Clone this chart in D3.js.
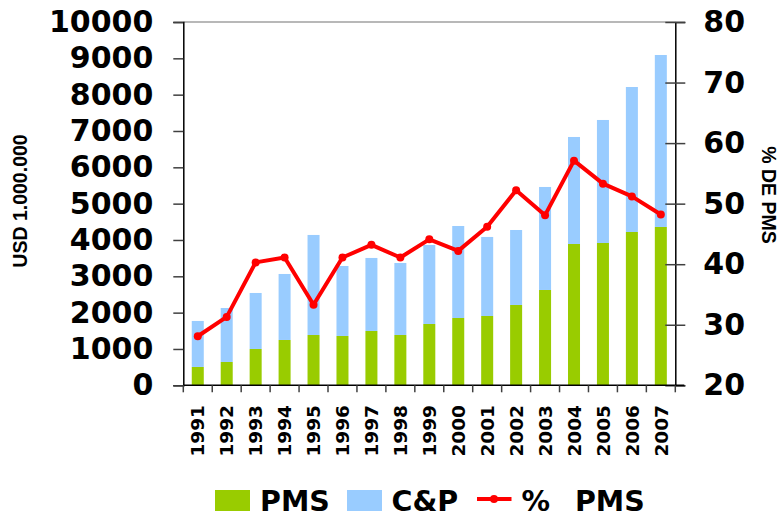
<!DOCTYPE html>
<html>
<head>
<meta charset="utf-8">
<script src="https://cdn.jsdelivr.net/npm/d3@7"></script>
<style>
  body { margin: 0; background: #fff; }
  svg { display: block; }
</style>
</head>
<body>
<div id="chart"></div>
<script>
// Data
var years = ["1991","1992","1993","1994","1995","1996","1997","1998","1999",
             "2000","2001","2002","2003","2004","2005","2006","2007"];
var pms   = [505, 642, 1000, 1248, 1385, 1358, 1495, 1385, 1688,
             1853, 1908, 2211, 2624, 3890, 3917, 4220, 4358];
var total = [1771, 2128, 2541, 3064, 4138, 3284, 3505, 3367, 3862,
             4385, 4083, 4275, 5459, 6835, 7303, 8211, 9092];
var pctPms = [28.1, 31.3, 40.3, 41.1, 33.3, 41.1, 43.2, 41.1, 44.1,
              42.2, 46.2, 52.2, 48.1, 57.1, 53.3, 51.2, 48.2];
var leftTicks  = [0,1000,2000,3000,4000,5000,6000,7000,8000,9000,10000];
var rightTicks = [20,30,40,50,60,70,80];
var seriesNames = ["PMS", "C&P", "% PMS"];

var W = 782, H = 514;
var plot = {left: 183.3, right: 675.3, top: 22, bottom: 385.3};
var colors = {pms: "#99cc00", cp: "#99ccff", line: "#ff0000"};
var tickFont = "'DejaVu Sans', Verdana, sans-serif";

var rows = years.map(function(y, i) {
    return {year: y, pms: pms[i], cp: total[i] - pms[i], pct: pctPms[i]};
});

var svg = d3.select("#chart").append("svg")
    .attr("width", W).attr("height", H);

var x = d3.scaleBand().domain(years)
    .range([plot.left, plot.right])
    .paddingInner(0.585).paddingOuter(0.2925);
var y = d3.scaleLinear().domain([0, 10000]).range([plot.bottom, plot.top]);
var y2 = d3.scaleLinear().domain([20, 80]).range([plot.bottom, plot.top]);

// stacked bars
var stack = d3.stack().keys(["pms", "cp"])(rows);
svg.append("g").selectAll("g")
    .data(stack).enter().append("g")
    .attr("fill", function(d) { return d.key === "pms" ? colors.pms : colors.cp; })
    .selectAll("rect")
    .data(function(d) { return d; }).enter().append("rect")
    .attr("x", function(d) { return x(d.data.year); })
    .attr("width", x.bandwidth())
    .attr("y", function(d) { return y(d[1]); })
    .attr("height", function(d) { return y(d[0]) - y(d[1]); });

// top border
svg.append("line")
    .attr("x1", plot.left).attr("x2", plot.right)
    .attr("y1", plot.top).attr("y2", plot.top)
    .attr("stroke", "#a0a0a0").attr("stroke-width", 1.5);

// left axis
var gl = svg.append("g")
    .attr("transform", "translate(" + plot.left + ",0)")
    .call(d3.axisLeft(y).tickValues(leftTicks).tickFormat(d3.format("d"))
        .tickSize(10).tickPadding(20));
gl.select(".domain").attr("stroke", "#000").attr("stroke-width", 1.5);
gl.selectAll(".tick line").attr("stroke", "#404040").attr("stroke-width", 1.5);
gl.selectAll("text")
    .style("font-family", tickFont).style("font-weight", "bold")
    .style("font-size", "30px").attr("fill", "#000");

// right axis, ticks crossing the line
var gr = svg.append("g")
    .attr("transform", "translate(" + plot.right + ",0)")
    .call(d3.axisRight(y2).tickValues(rightTicks).tickFormat(d3.format("d"))
        .tickSize(10).tickPadding(18));
gr.select(".domain").attr("stroke", "#000").attr("stroke-width", 1.5);
gr.selectAll(".tick line").attr("x1", -10)
    .attr("stroke", "#404040").attr("stroke-width", 1.5);
gr.selectAll("text")
    .style("font-family", tickFont).style("font-weight", "bold")
    .style("font-size", "30px").attr("fill", "#000");

// bottom axis with separators between the years
svg.append("line")
    .attr("x1", plot.left).attr("x2", plot.right + 9)
    .attr("y1", plot.bottom).attr("y2", plot.bottom)
    .attr("stroke", "#000").attr("stroke-width", 1.5);
var bounds = years.map(function(d) { return x(d) - x.step() * x.paddingOuter(); });
bounds.push(plot.right);
svg.append("g").selectAll("line")
    .data(bounds).enter().append("line")
    .attr("x1", function(d) { return d; }).attr("x2", function(d) { return d; })
    .attr("y1", plot.bottom).attr("y2", plot.bottom + 7)
    .attr("stroke", "#404040").attr("stroke-width", 1.5);

svg.append("g").selectAll("text")
    .data(years).enter().append("text")
    .attr("transform", function(d) {
        return "translate(" + (x(d) + x.bandwidth() / 2) + ",405) rotate(-90)";
    })
    .attr("text-anchor", "end")
    .attr("dy", "0.36em")
    .style("font-family", tickFont).style("font-weight", "bold")
    .style("font-size", "18.5px")
    .text(function(d) { return d; });

// axis titles
svg.append("text")
    .attr("transform", "translate(26.5,201) rotate(-90)")
    .attr("text-anchor", "middle")
    .style("font-family", "'Liberation Sans', Arial, sans-serif")
    .style("font-weight", "bold").style("font-size", "19.5px")
    .text("USD 1.000.000");
svg.append("text")
    .attr("transform", "translate(761.5,195) rotate(90)")
    .attr("text-anchor", "middle")
    .style("font-family", "'Liberation Sans', Arial, sans-serif")
    .style("font-weight", "bold").style("font-size", "19.5px")
    .text("% DE PMS");

// % PMS line
var line = d3.line()
    .x(function(d) { return x(d.year) + x.bandwidth() / 2; })
    .y(function(d) { return y2(d.pct); });
svg.append("path")
    .datum(rows)
    .attr("d", line)
    .attr("fill", "none")
    .attr("stroke", colors.line).attr("stroke-width", 4)
    .attr("stroke-linejoin", "round");
svg.append("g").selectAll("circle")
    .data(rows).enter().append("circle")
    .attr("cx", function(d) { return x(d.year) + x.bandwidth() / 2; })
    .attr("cy", function(d) { return y2(d.pct); })
    .attr("r", 4)
    .attr("fill", colors.line);

// legend
var legend = svg.append("g").style("font-family", tickFont)
    .style("font-weight", "bold").style("font-size", "28.5px");
legend.append("rect").attr("x", 215).attr("y", 490).attr("width", 35).attr("height", 21)
    .attr("fill", colors.pms);
legend.append("text").attr("x", 260).attr("y", 510.5).text(seriesNames[0]);
legend.append("rect").attr("x", 347).attr("y", 490).attr("width", 35).attr("height", 21)
    .attr("fill", colors.cp);
legend.append("text").attr("x", 391.5).attr("y", 510.5).text(seriesNames[1]);
legend.append("line").attr("x1", 477).attr("x2", 511.5).attr("y1", 499).attr("y2", 499)
    .attr("stroke", colors.line).attr("stroke-width", 4);
legend.append("circle").attr("cx", 494).attr("cy", 499).attr("r", 4)
    .attr("fill", colors.line);
legend.append("text").attr("x", 521.5).attr("y", 510.5)
    .style("word-spacing", "15px")
    .text(seriesNames[2]);
</script>
</body>
</html>
